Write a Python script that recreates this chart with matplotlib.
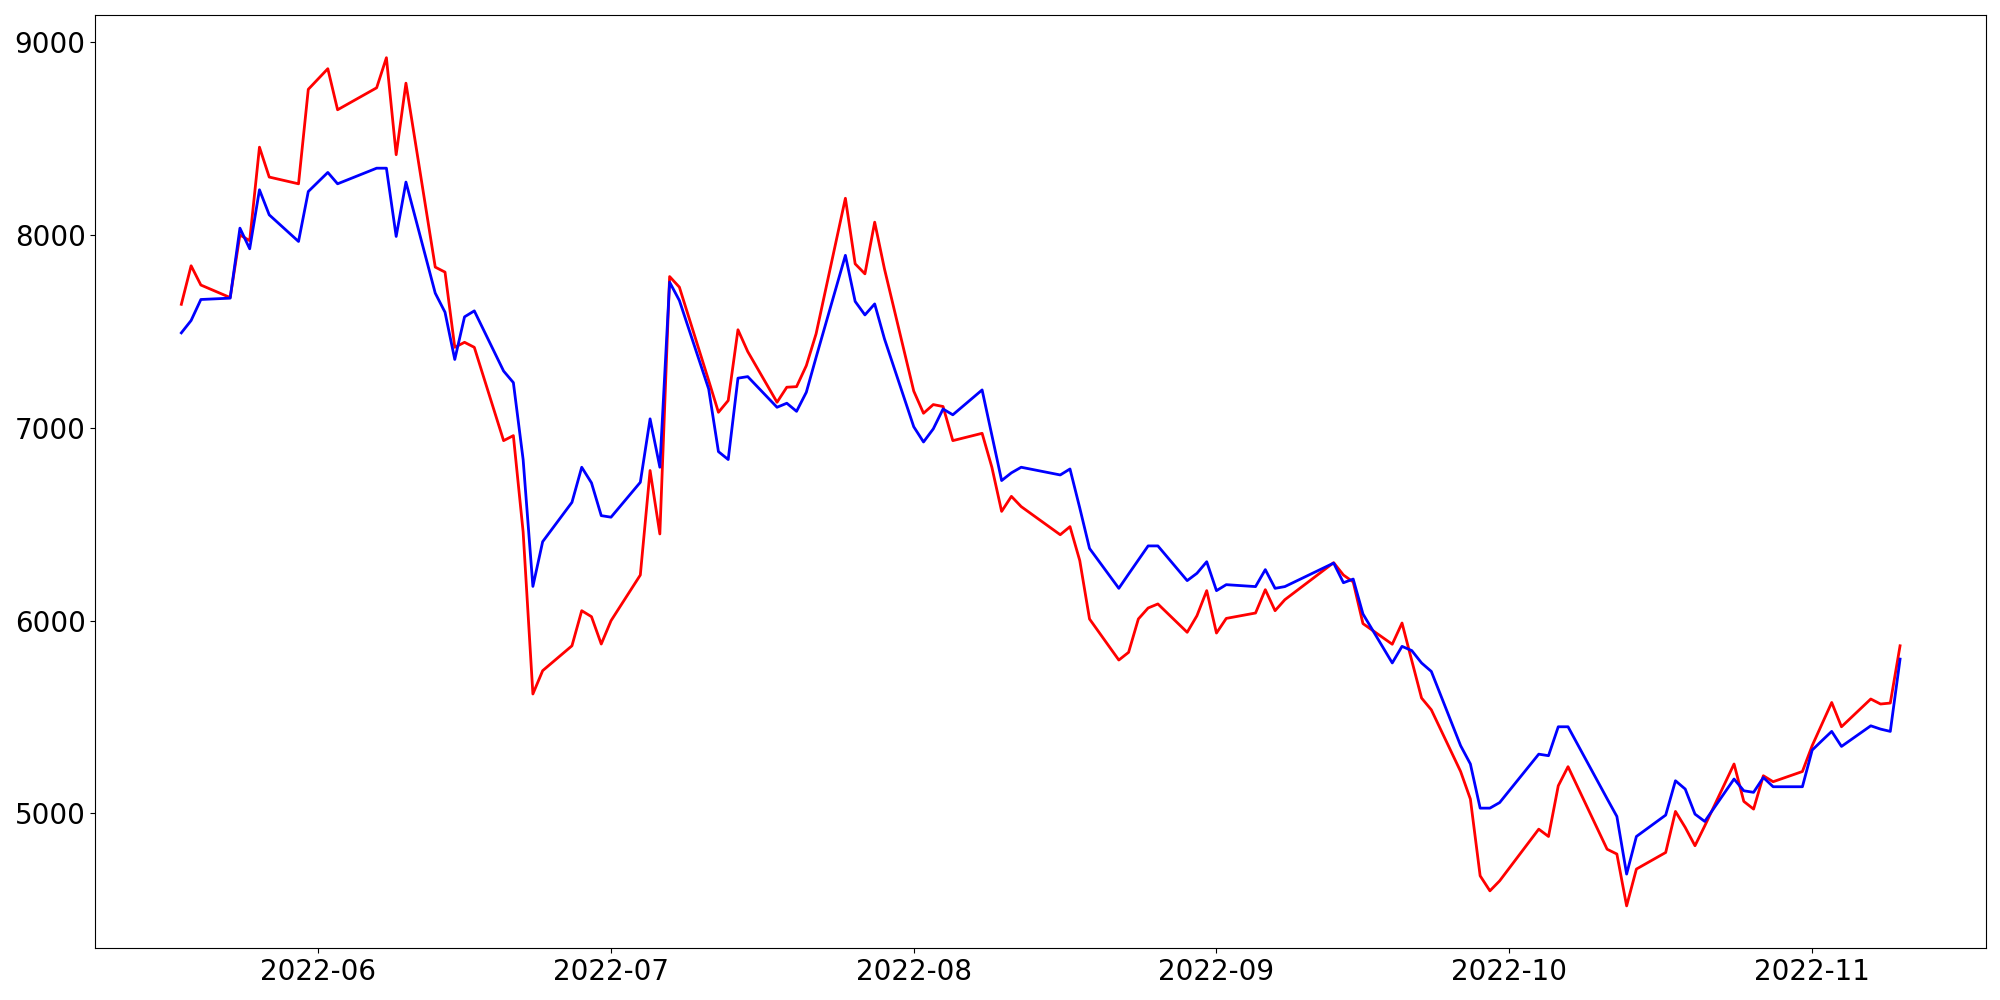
import matplotlib
matplotlib.use('Agg')
import matplotlib.pyplot as plt
import pandas as pd

# trading days (KRX calendar) 2022-05-18 .. 2022-11-10
holidays = ['2022-06-01', '2022-06-06', '2022-08-15', '2022-09-09',
            '2022-09-12', '2022-10-03', '2022-10-10']
dates = pd.bdate_range('2022-05-18', '2022-11-10')
dates = dates[~dates.isin(pd.to_datetime(holidays))]

red = [7640, 7840, 7740, 7675, 8000, 7970, 8455, 8300, 8265, 8755,
       8862, 8649, 8763, 8919, 8416, 8787, 7833, 7807, 7417, 7443,
       7417, 6933, 6959, 6460, 5619, 5740, 5869, 6051, 6020, 5878,
       5999, 6236, 6778, 6449, 7784, 7729, 7245, 7080, 7141, 7508,
       7395, 7132, 7210, 7213, 7322, 7487, 8190, 7850, 7798, 8066, 7824,
       7190, 7075, 7120, 7110, 6933, 6971, 6795, 6566, 6644, 6591,
       6445, 6487, 6311, 6008, 5795, 5835, 6008, 6065, 6086, 5939, 6025, 6155,
       5935, 6011, 6039, 6160, 6051, 6108, 6300, 6236, 6200, 5984,
       5877, 5987, 5792, 5598, 5537, 5217, 5074, 4676, 4598, 4650,
       4918, 4880, 5143, 5242, 4814, 4789, 4520, 4711, 4797, 5010,
       4927, 4832, 4935, 5256, 5062, 5022, 5195, 5164, 5217,
       5351, 5463, 5575, 5449, 5593, 5567, 5572, 5869]

blue = [7492, 7556, 7665, 7672, 8035, 7928, 8234, 8104, 7966, 8225,
        8324, 8265, 8346, 8346, 7992, 8274, 7698, 7599, 7354, 7575,
        7606, 7294, 7234, 6835, 6177, 6409, 6613, 6795, 6714, 6544,
        6536, 6717, 7046, 6795, 7755, 7660, 7201, 6876, 6835, 7257,
        7265, 7106, 7127, 7085, 7184, 7365, 7894, 7655, 7585, 7642, 7461,
        7005, 6926, 6994, 7097, 7067, 7196, 6961, 6726, 6766, 6795,
        6755, 6786, 6584, 6374, 6167, 6241, 6314, 6387, 6387, 6207, 6245, 6305,
        6155, 6186, 6176, 6264, 6167, 6176, 6298, 6196, 6215, 6034,
        5780, 5866, 5844, 5780, 5736, 5351, 5256, 5027, 5027, 5056,
        5307, 5299, 5449, 5449, 5076, 4984, 4685, 4880, 4991, 5169,
        5126, 4996, 4958, 5178, 5117, 5109, 5186, 5138, 5138,
        5328, 5377, 5425, 5347, 5454, 5437, 5425, 5800]

fig = plt.figure(figsize=(20, 10), dpi=100)
ax = fig.add_subplot(111)
ax.plot(dates, red, color='red', linewidth=2)
ax.plot(dates, blue, color='blue', linewidth=2)
ax.tick_params(labelsize=20)
fig.subplots_adjust(left=0.0477, right=0.993, top=0.9847, bottom=0.0517)
fig.savefig('out.png')
